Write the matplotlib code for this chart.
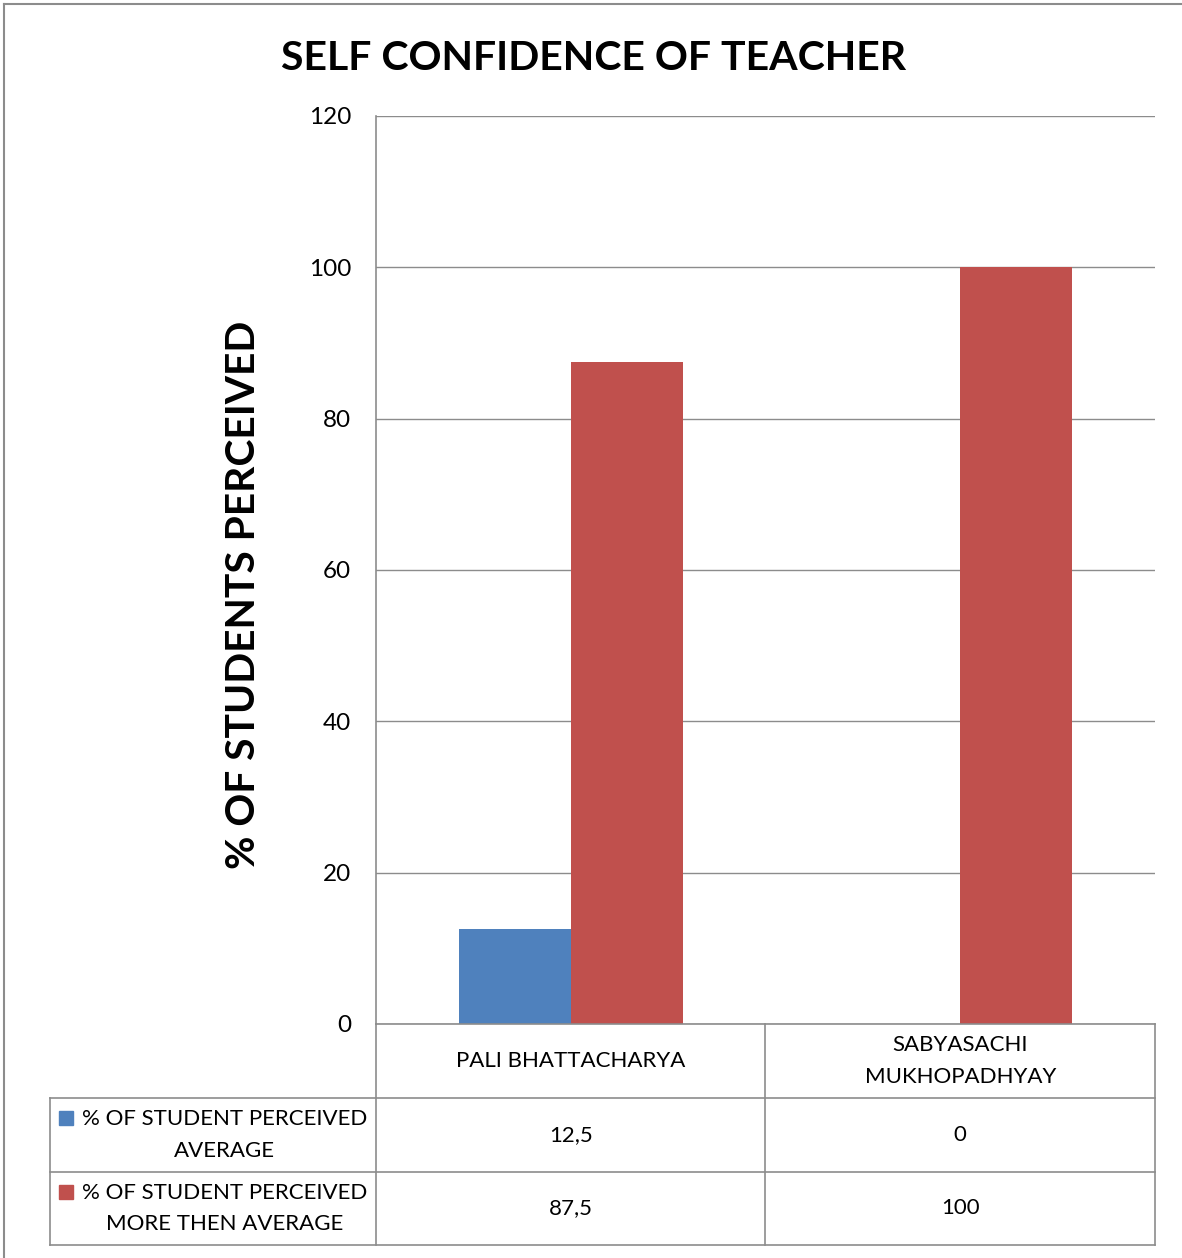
import matplotlib
matplotlib.use("Agg")
import matplotlib.pyplot as plt
from matplotlib.lines import Line2D
from matplotlib.patches import Rectangle
from matplotlib.transforms import blended_transform_factory

plt.rcParams['font.family'] = ['Lato', 'DejaVu Sans']

# Data
teachers = ["PALI BHATTACHARYA", "SABYASACHI\nMUKHOPADHYAY"]
series_names = ["% OF STUDENT PERCEIVED\nAVERAGE",
                "% OF STUDENT PERCEIVED\nMORE THEN AVERAGE"]
average = [12.5, 0]
more_than_average = [87.5, 100]
value_labels = [["12,5", "0"], ["87,5", "100"]]
yticks = [0, 20, 40, 60, 80, 100, 120]
colors = ["#4F81BD", "#C0504D"]

W, H = 1182, 1258
fig = plt.figure(figsize=(W / 100, H / 100), dpi=100)


def fx(x):
    return x / W


def fy(y):
    return 1 - y / H


grey = "#8c8c8c"

# Outer chart frame (top and left edges)
fig.add_artist(Line2D([fx(4), 1], [fy(4), fy(4)], color=grey, lw=1.5))
fig.add_artist(Line2D([fx(4), fx(4)], [fy(4), 0], color=grey, lw=1.5))

# Plot area
L, R, T, B = 376, 1155, 116, 1024
ax = fig.add_axes([fx(L), fy(B), fx(R - L), (B - T) / H])

n = len(teachers)
x = list(range(n))
bw = 0.2875
ax.bar([i - bw / 2 for i in x], average, width=bw, color=colors[0], zorder=3)
ax.bar([i + bw / 2 for i in x], more_than_average, width=bw, color=colors[1], zorder=3)

ax.set_xlim(-0.5, n - 0.5)
ax.set_ylim(0, 120)
ax.set_yticks(yticks)
ax.set_yticklabels([str(t) for t in yticks], fontsize=17.5)
ax.tick_params(axis='y', length=0, pad=18)
ax.set_xticks([])
ax.yaxis.grid(True, color=grey, lw=1, zorder=0)
for s in ["top", "right", "bottom"]:
    ax.spines[s].set_visible(False)
ax.spines["left"].set_color(grey)
ax.spines["left"].set_linewidth(1.2)

ax.set_ylabel("% OF STUDENTS PERCEIVED", fontsize=29.3, fontweight="bold",
              labelpad=0)
ax.yaxis.set_label_coords((262 - L) / (R - L), (B - 595) / (B - T))

fig.text(fx(594), fy(59), "SELF CONFIDENCE OF TEACHER", fontsize=29.5,
         fontweight="bold", ha="center", va="center")

# Data table beneath the plot
tr = blended_transform_factory(ax.transData, fig.transFigure)
rows_y = [1024, 1098, 1172, 1245]
col_x = [50, L, 765, R]


def hline(x0, x1, y):
    fig.add_artist(Line2D([fx(x0), fx(x1)], [fy(y), fy(y)], color=grey, lw=1.2))


def vline(x0, y0, y1):
    fig.add_artist(Line2D([fx(x0), fx(x0)], [fy(y0), fy(y1)], color=grey, lw=1.2))


hline(L, R, rows_y[0])
for y in rows_y[1:]:
    hline(col_x[0], R, y)
vline(col_x[0], rows_y[1], rows_y[3])
for cx in col_x[1:]:
    vline(cx, rows_y[0], rows_y[3])

tfs = 16
lsp = 1.7
for i, name in enumerate(teachers):
    ax.text(i, fy((rows_y[0] + rows_y[1]) / 2), name, transform=tr,
            ha="center", va="center", fontsize=tfs, linespacing=lsp)

for r, (sname, color) in enumerate(zip(series_names, colors)):
    yc = (rows_y[r + 1] + rows_y[r + 2]) / 2
    fig.text(fx(224.5), fy(yc), sname, ha="center", va="center",
             fontsize=tfs, multialignment="center", linespacing=lsp)
    fig.add_artist(Rectangle((fx(59), fy(yc - 10)), fx(14), 14 / H,
                             color=color, transform=fig.transFigure))
    for i in range(n):
        ax.text(i, fy(yc), value_labels[r][i], transform=tr,
                ha="center", va="center", fontsize=tfs)

fig.savefig("out.png", dpi=100, facecolor="white")
